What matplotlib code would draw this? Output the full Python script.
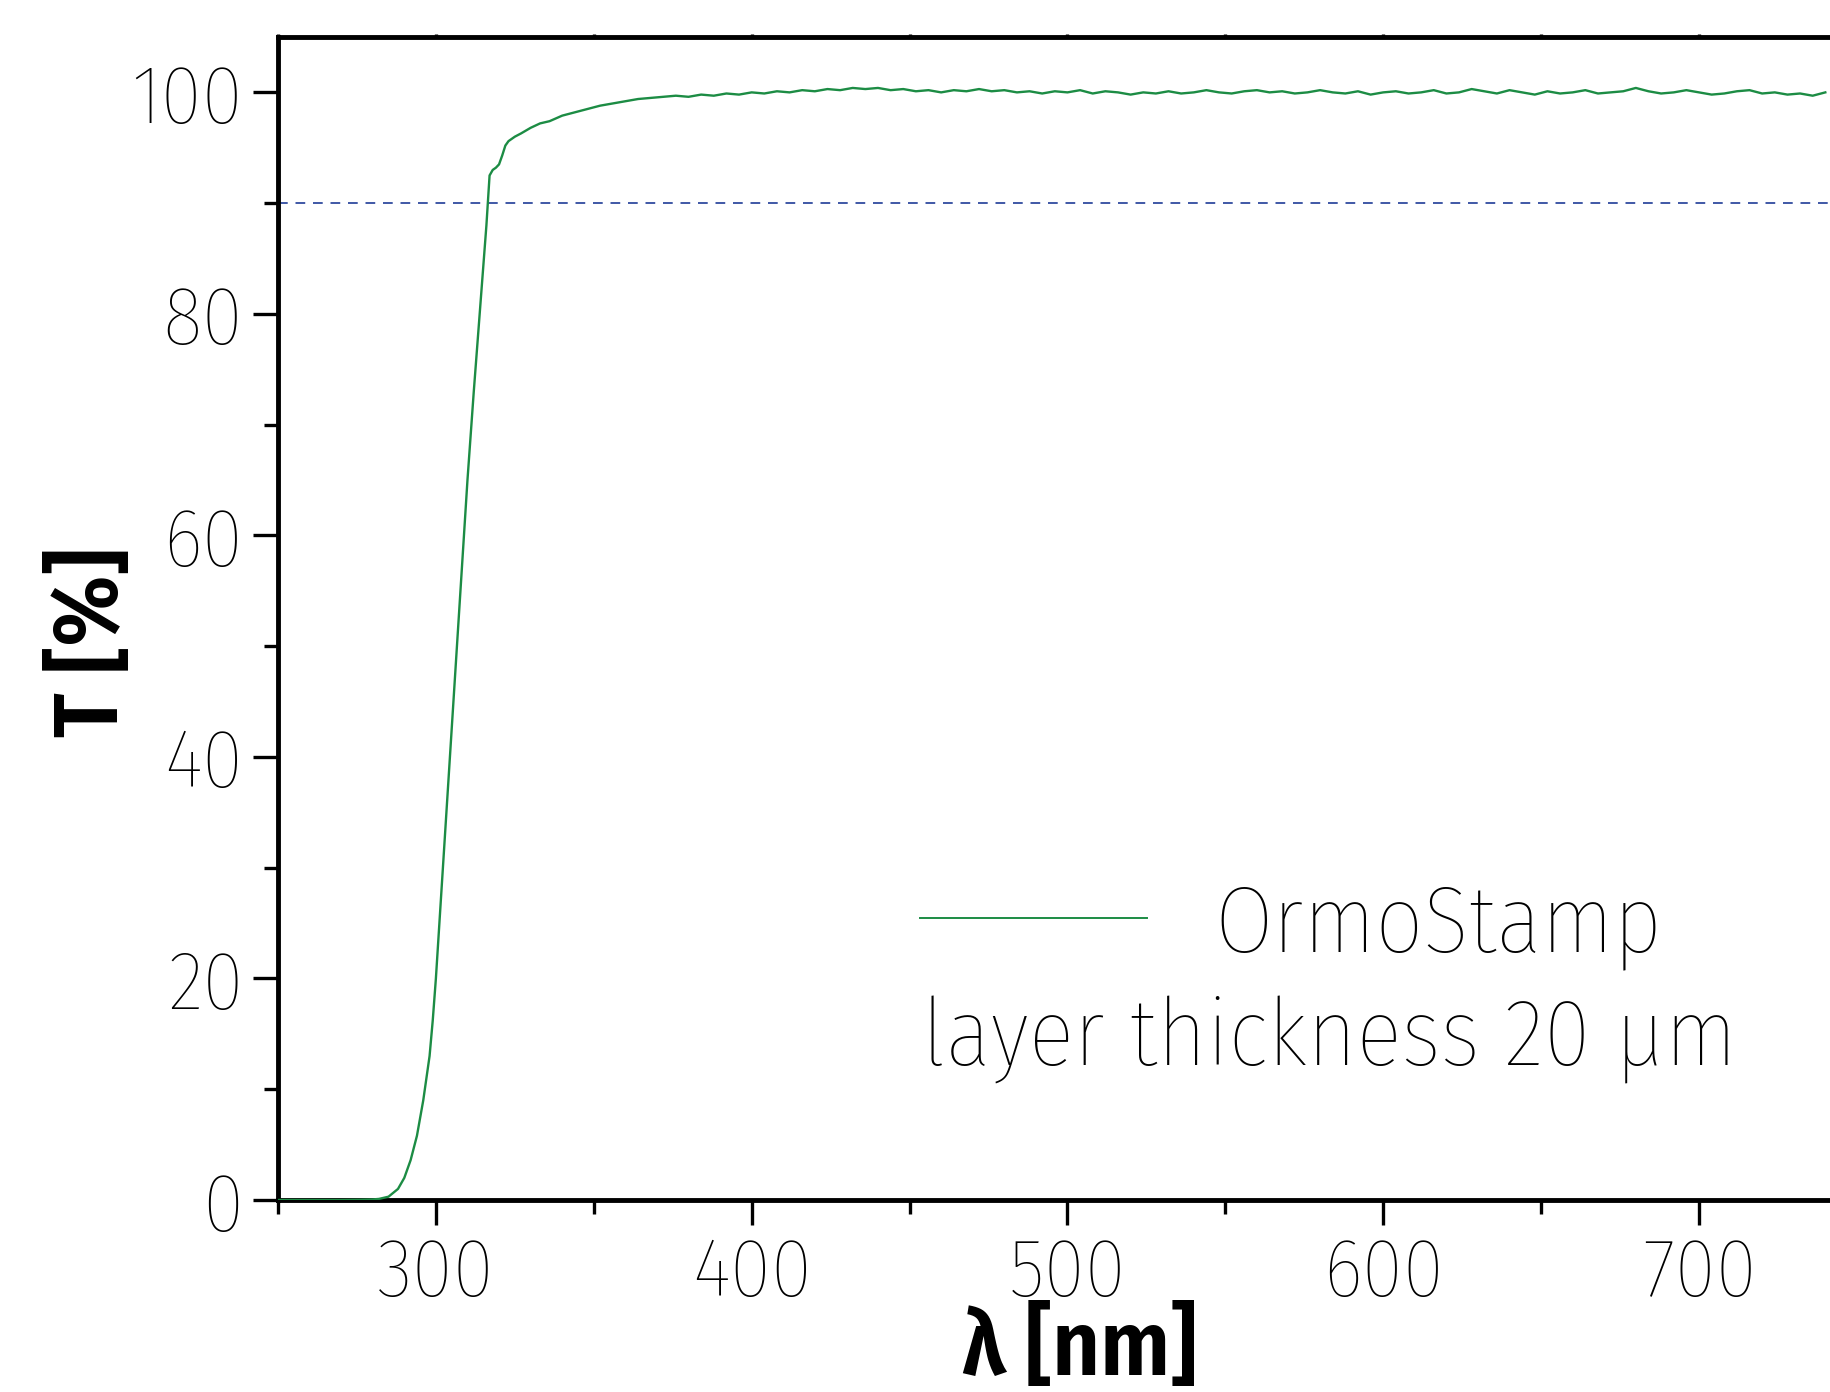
import numpy as np
import matplotlib
matplotlib.use("Agg")
import matplotlib.pyplot as plt
from matplotlib.ticker import MultipleLocator

plt.rcParams['font.family'] = ['Fira Sans Condensed', 'Liberation Sans', 'DejaVu Sans']
plt.rcParams['font.weight'] = 'light'

# ---- data ----
rise_wl = [250, 260, 270, 276, 280, 282, 285, 288, 290, 292, 294, 296, 298, 299, 300,
           301, 302, 304, 306, 308, 310, 312, 314, 316, 317, 318, 319, 320, 321, 322,
           323, 325, 327, 330, 333, 336, 340, 344, 348, 352, 356, 360, 364, 368]
rise_T = [0.0, 0.0, 0.0, 0.02, 0.05, 0.1, 0.3, 1.0, 2.0, 3.6, 5.8, 9.0, 13.0, 16.2, 20.0,
          24.5, 29.0, 38.0, 47.0, 56.0, 65.0, 73.0, 80.5, 88.0, 92.5, 93.0, 93.2, 93.5, 94.3, 95.2,
          95.6, 96.0, 96.3, 96.8, 97.2, 97.4, 97.9, 98.2, 98.5, 98.8, 99.0, 99.2, 99.4, 99.5]

plateau_wl = list(range(372, 741, 4))
plateau_T = [
    99.6, 99.7, 99.6, 99.8, 99.7, 99.9, 99.8, 100.0,                      # 372-400
    99.9, 100.1, 100.0, 100.2, 100.1, 100.3, 100.2, 100.4, 100.3, 100.4,  # 404-440
    100.2, 100.3, 100.1, 100.2, 100.0, 100.2, 100.1, 100.3, 100.1, 100.2,  # 444-480
    100.0, 100.1, 99.9, 100.1, 100.0,                                      # 484-500
    100.2, 99.9, 100.1, 100.0, 99.8, 100.0, 99.9, 100.1, 99.9, 100.0,      # 504-540
    100.2, 100.0, 99.9, 100.1, 100.2, 100.0, 100.1, 99.9, 100.0, 100.2,    # 544-580
    100.0, 99.9, 100.1, 99.8, 100.0,                                       # 584-600
    100.1, 99.9, 100.0, 100.2, 99.9, 100.0, 100.3, 100.1, 99.9, 100.2,     # 604-640
    100.0, 99.8, 100.1, 99.9, 100.0, 100.2, 99.9, 100.0, 100.1, 100.4,     # 644-680
    100.1, 99.9, 100.0, 100.2, 100.0,                                      # 684-700
    99.8, 99.9, 100.1, 100.2, 99.9, 100.0, 99.8, 99.9, 99.7, 100.0,        # 704-740
]

wavelength = rise_wl + plateau_wl
transmission = rise_T + plateau_T
threshold = 90
series_label = "OrmoStamp"
note = "layer thickness 20 µm"
x_label = "λ [nm]"
y_label = "T [%]"

# ---- figure ----
fig = plt.figure(figsize=(18.31, 13.92), dpi=100)
ax = fig.add_axes([278 / 1831, 1 - 1200 / 1392, 1 - 278 / 1831, (1200 - 37) / 1392])

green = '#1c8c44'
blue = '#3f58a6'

ax.axhline(threshold, color=blue, lw=1.4, dashes=(5.0, 4.0), zorder=2)
line, = ax.plot(wavelength, transmission, color=green, lw=1.7, zorder=3)

ax.set_xlim(250, 741.8)
ax.set_ylim(0, 105)

ax.xaxis.set_major_locator(MultipleLocator(100))
ax.xaxis.set_minor_locator(MultipleLocator(50))
ax.yaxis.set_major_locator(MultipleLocator(20))
ax.yaxis.set_minor_locator(MultipleLocator(10))

for s in ['left', 'bottom', 'top']:
    ax.spines[s].set_linewidth(3.5)
ax.spines['right'].set_visible(False)

ax.tick_params(axis='both', which='major', direction='out', length=18, width=2.4,
               labelsize=60, pad=7)
ax.tick_params(axis='both', which='minor', direction='out', length=10, width=2.4)
ax.tick_params(axis='x', which='both', top=True, labeltop=False)
for t in ax.xaxis.get_major_ticks() + ax.xaxis.get_minor_ticks():
    t.tick2line.set_markersize(2)

ax.set_ylabel(y_label, fontsize=66, fontweight='semibold', va='center')
ax.yaxis.set_label_coords((93 - 278) / 1553, (1200 - 642) / 1163)
ax.set_xlabel(x_label, fontsize=66, fontweight='semibold', va='baseline')
ax.xaxis.set_label_coords((1079 - 278) / 1553, (1200 - 1375) / 1163)

leg = ax.legend([line], [series_label], loc='center left',
                bbox_to_anchor=((920 - 278) / 1553, (1200 - 926) / 1163),
                frameon=False, fontsize=68, handlelength=2.4, handletextpad=0.72,
                borderpad=0, borderaxespad=0)
leg.get_lines()[0].set_linewidth(1.4)
ax.text((922 - 278) / 1553, (1200 - 1065) / 1163, note, transform=ax.transAxes,
        fontsize=68, va='baseline', ha='left')

fig.savefig('out.png', dpi=100)
